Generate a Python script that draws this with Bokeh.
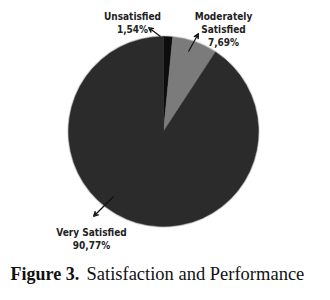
from bokeh.plotting import figure
from bokeh.models import Range1d, Arrow, VeeHead, ColumnDataSource, Label
from bokeh.embed import file_html
from bokeh.resources import INLINE
import math

categories = ["Unsatisfied", "Moderately Satisfied", "Very Satisfied"]
percents = [1.54, 7.69, 90.77]
colors = ["#0c0c0c", "#7b7b7b", "#2b2b2b"]

W, H = 314, 284
p = figure(width=W, height=H, output_backend="svg", toolbar_location=None,
           x_range=Range1d(0, 314), y_range=Range1d(16, 300), min_border=0)
p.axis.visible = False
p.grid.visible = False
p.outline_line_color = None
p.background_fill_color = "white"

# picture y -> data y
def Y(py):
    return 300 - py

cx, cy, r = 163, Y(131), 95
starts, ends = [], []
acc = 0.0
for v in percents:
    s = math.pi / 2 - acc / 100 * 2 * math.pi
    acc += v
    e = math.pi / 2 - acc / 100 * 2 * math.pi
    starts.append(s)
    ends.append(e)

src = ColumnDataSource(dict(start=starts, end=ends, color=colors))
p.circle(x=[cx], y=[cy], radius=r + 1.2, fill_color="#d8d8d8", line_color=None)
p.wedge(x=cx, y=cy, radius=r, start_angle="start", end_angle="end",
        direction="clock", fill_color="color", line_color="color", line_width=0.5, source=src)

fmt = lambda v: f"{v:.2f}".replace(".", ",") + "%"

lab_lines = [
    (["Unsatisfied", fmt(percents[0])], 132, [16, 29]),
    (["Moderately", "Satisfied", fmt(percents[1])], 223, [16, 29, 42]),
    (["Very Satisfied", fmt(percents[2])], 91, [232, 245]),
]
for lines, x, ys in lab_lines:
    for t, yy in zip(lines, ys):
        p.add_layout(Label(x=x, y=Y(yy), text=t, text_font="DejaVu Sans Condensed",
                           text_font_style="bold", text_font_size="10px",
                           text_align="center", text_baseline="middle", text_color="#222222"))

arrows = [((160, 36), (148, 27)), ((188, 51), (198, 33)), ((113, 196), (93, 216))]
for (x0, y0), (x1, y1) in arrows:
    p.add_layout(Arrow(x_start=x0, y_start=Y(y0), x_end=x1, y_end=Y(y1),
                       line_color="#111111", line_width=1.2,
                       end=VeeHead(size=5, line_color="#111111", line_width=1.2, fill_color=None)))

p.add_layout(Label(x=10, y=Y(273), text="Figure 3.", text_font="Liberation Serif",
                   text_font_style="bold", text_font_size="18px", text_baseline="alphabetic",
                   text_color="#111111"))
p.add_layout(Label(x=86, y=Y(273), text="Satisfaction and Performance", text_font="Liberation Serif",
                   text_font_style="normal", text_font_size="18.5px", text_baseline="alphabetic",
                   text_color="#111111"))

open("out.html", "w").write(file_html(p, INLINE))
